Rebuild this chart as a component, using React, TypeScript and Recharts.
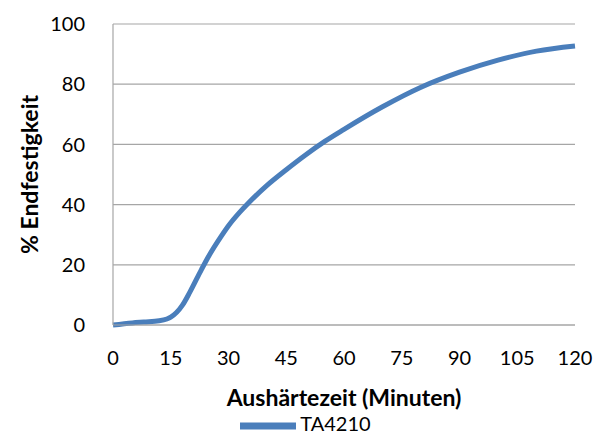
import React from "react";
import { CartesianGrid, Legend, Line, LineChart, XAxis, YAxis } from "recharts";

const minutes = [0, 5, 8, 12, 14, 15, 18, 20, 23, 25, 28, 30, 33, 35, 40, 45, 50, 55, 60, 70, 80, 90, 100, 110, 120];
const strength = [0, 0.7, 1, 1.4, 2, 2.6, 6.5, 11, 18.5, 23.2, 29.3, 33, 37.6, 40.3, 46.4, 51.6, 56.5, 61, 65, 72.5, 79, 84, 88, 91, 92.7];
const xTicks = [0, 15, 30, 45, 60, 75, 90, 105, 120];
const yTicks = [0, 20, 40, 60, 80, 100];

const data = minutes.map((t, i) => ({ t, TA4210: strength[i] }));

const font = "Lato, 'Open Sans', sans-serif";

export default function App() {
  return (
    <div style={{ position: "absolute", left: 0, top: 0, fontFamily: font }}>
      <LineChart width={608} height={434} data={data} margin={{ top: 24, right: 33, bottom: 0, left: 0 }}>
        <CartesianGrid vertical={false} stroke="#a6a6a6" strokeWidth={1.2} />
        <XAxis
          dataKey="t"
          type="number"
          domain={[0, 120]}
          ticks={xTicks}
          interval={0}
          height={75}
          tickLine={false}
          stroke="#a6a6a6"
          strokeWidth={1.2}
          tickMargin={20}
          tick={{ fill: "#000", fontSize: 20, fontFamily: font }}
          label={{ value: "Aushärtezeit (Minuten)", position: "insideBottom", offset: -6, fill: "#000", fontSize: 23, fontWeight: 700, fontFamily: font }}
        />
        <YAxis
          type="number"
          domain={[0, 100]}
          ticks={yTicks}
          interval={0}
          width={113}
          tickLine={false}
          stroke="#a6a6a6"
          strokeWidth={1.2}
          tickMargin={22}
          tick={{ fill: "#000", fontSize: 20, fontFamily: font }}
          label={{ value: "% Endfestigkeit", angle: -90, position: "insideLeft", offset: 30, fill: "#000", fontSize: 23, fontWeight: 700, fontFamily: font, style: { textAnchor: "middle" } }}
        />
        <Legend
          verticalAlign="bottom"
          height={34}
          iconType="plainline"
          iconSize={56}
          wrapperStyle={{ fontSize: 20, fontFamily: font, color: "#000", left: 23, bottom: 2, lineHeight: "20px" }}
          formatter={(v) => <span style={{ color: "#000" }}>{v}</span>}
        />
        <Line
          type="monotone"
          dataKey="TA4210"
          stroke="#4a7ebb"
          strokeWidth={5}
          dot={false}
          isAnimationActive={false}
        />
      </LineChart>
    </div>
  );
}
